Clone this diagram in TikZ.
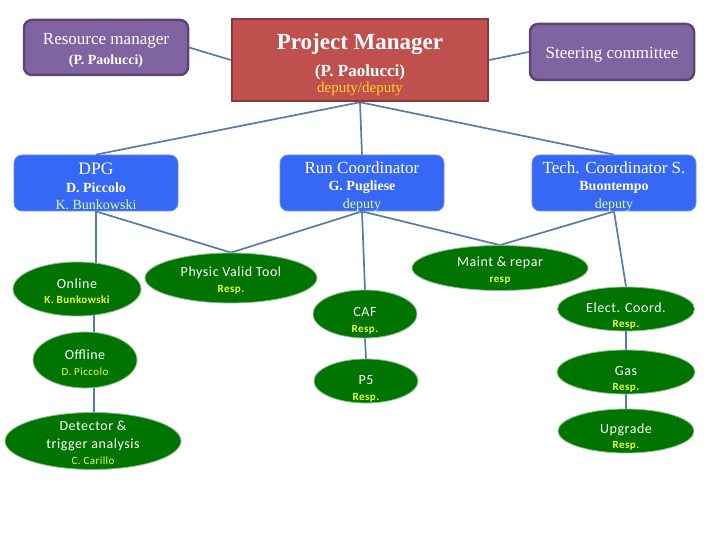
\documentclass[tikz,border=0pt]{standalone}
\usepackage{fontspec}
\setmainfont{Liberation Serif}
\newfontfamily\calfont[LetterSpace=4]{Carlito}
\usetikzlibrary{shapes.geometric,backgrounds}
\definecolor{linkblue}{RGB}{86,124,170}
\definecolor{rmpurple}{RGB}{128,100,162}
\definecolor{rmborder}{RGB}{92,70,118}
\definecolor{pmred}{RGB}{192,80,77}
\definecolor{pmborder}{RGB}{140,56,54}
\definecolor{boxblue}{RGB}{55,104,245}
\definecolor{ellgreen}{RGB}{0,116,0}
\definecolor{ellborder}{RGB}{140,190,140}
\definecolor{lgreen}{RGB}{214,255,160}
\definecolor{dyellow}{RGB}{255,214,40}
\definecolor{ryellow}{RGB}{236,255,50}
\newcommand\resptext[1]{{\color{ryellow}\calfont\bfseries\fontsize{11}{13}\selectfont #1}}
\tikzset{
  conn/.style={draw=linkblue, line width=1.7pt},
  purplebox/.style={rectangle, rounded corners=8pt, fill=rmpurple, draw=rmborder, line width=2.5pt,
    minimum width=164pt, inner sep=0pt},
  redbox/.style={rectangle, fill=pmred, draw=pmborder, line width=2.5pt,
    minimum width=256pt, minimum height=82pt, inner sep=0pt},
  bluebox/.style={rectangle, rounded corners=8pt, fill=boxblue, draw=boxblue!75!white, line width=0.8pt,
    minimum width=164pt, minimum height=56pt, inner sep=0pt},
  greenell/.style={ellipse, fill=ellgreen, draw=ellborder, line width=0.8pt, inner sep=0pt},
  btxt/.style={align=center, text=white, inner sep=0pt, font=\fontsize{14}{17.5}\selectfont},
  etxt/.style={align=center, text=white, inner sep=0pt, font=\calfont\fontsize{14}{16.5}\selectfont},
}
\begin{document}
\begin{tikzpicture}[x=1pt, y=-1pt]
\useasboundingbox (0,0) rectangle (720,540);
% top row
\node[purplebox, minimum height=55pt,
  label={[btxt, yshift=-3pt, font=\fontsize{14}{20}\selectfont]center:{{\fontsize{17}{19}\selectfont Resource manager}\\{\bfseries (P. Paolucci)}}}] (rm) at (106,47.5) {};
\node[redbox,
  label={[btxt, yshift=-4.5pt, font=\fontsize{16}{24}\selectfont]center:{{\bfseries\fontsize{23}{26}\selectfont Project Manager}\\[3pt]{\bfseries\fontsize{17}{19}\selectfont (P. Paolucci)}\\[-8pt]{\color{dyellow}\fontsize{15}{17}\selectfont deputy/deputy}}}] (pm) at (360,60) {};
\node[purplebox, minimum height=56pt,
  label={[btxt, yshift=-3pt, font=\fontsize{17}{19}\selectfont]center:{Steering committee}}] (sc) at (612,52) {};
% second row
\node[bluebox, label={[btxt, yshift=-3.5pt]center:{{\fontsize{17.5}{19}\selectfont DPG}\\{\bfseries D. Piccolo}\\{\color{lgreen}K. Bunkowski}}}] (dpg) at (96,183) {};
\node[bluebox, label={[btxt, yshift=-3.5pt]center:{{\fontsize{17}{19}\selectfont Run Coordinator}\\{\bfseries G. Pugliese}\\{\color{lgreen}deputy}}}] (rc) at (362,183) {};
\node[bluebox, label={[btxt, yshift=-3.5pt]center:{{\fontsize{17}{19}\selectfont Tech. Coordinator S.}\\{\bfseries Buontempo}\\{\color{lgreen}deputy}}}] (tc) at (614,183) {};
% ellipses
\node[greenell, minimum width=128pt, minimum height=54pt,
  label={[etxt, yshift=-2pt]center:{Online\\[-1pt]\resptext{K. Bunkowski}}}] (online) at (77,289) {};
\node[greenell, minimum width=104pt, minimum height=56pt,
  label={[etxt, yshift=-2.5pt]center:{Offline\\[-1pt]{\color{ryellow}\fontsize{11}{13}\selectfont D. Piccolo}}}] (offline) at (85,360) {};
\node[greenell, minimum width=176pt, minimum height=57pt,
  label={[etxt, yshift=-2pt, font=\calfont\fontsize{14}{18}\selectfont]center:{Detector \&\\trigger analysis\\[-2pt]{\color{ryellow}\fontsize{11}{13}\selectfont C. Carillo}}}] (det) at (93,441) {};
\node[greenell, minimum width=172pt, minimum height=50pt,
  label={[etxt, yshift=-2.5pt]center:{Physic Valid Tool\\\resptext{Resp.}}}] (pvt) at (231,278) {};
\node[greenell, minimum width=176pt, minimum height=45pt,
  label={[etxt, yshift=-2.5pt]center:{Maint \& repar\\\resptext{resp}}}] (maint) at (500,268) {};
\node[greenell, minimum width=104pt, minimum height=48pt,
  label={[etxt, yshift=-7pt]center:{CAF\\\resptext{Resp.}}}] (caf) at (365,314) {};
\node[greenell, minimum width=104pt, minimum height=44pt,
  label={[etxt, yshift=-8pt]center:{P5\\\resptext{Resp.}}}] (p5) at (366,381) {};
\node[greenell, minimum width=137pt, minimum height=44pt,
  label={[etxt, yshift=-7pt]center:{Elect. Coord.\\[-1pt]\resptext{Resp.}}}] (elect) at (626,309) {};
\node[greenell, minimum width=138pt, minimum height=44pt,
  label={[etxt, yshift=-7.5pt]center:{Gas\\[-1pt]\resptext{Resp.}}}] (gas) at (626,372) {};
\node[greenell, minimum width=136pt, minimum height=44pt,
  label={[etxt, yshift=-6pt]center:{Upgrade\\[-1pt]\resptext{Resp.}}}] (upg) at (626,431) {};
\coordinate (leftline) at (94,0);
% connectors
\begin{scope}[on background layer]
\draw[conn] (rm.east) -- (pm.west);
\draw[conn] (pm.east) -- (sc.west);
\draw[conn] (pm.south) -- (dpg.north);
\draw[conn] (pm.south) -- (rc.north);
\draw[conn] (pm.south) -- (tc.north);
\draw[conn] (dpg.south) -- (dpg.south |- online.center);
\draw[conn] (dpg.south) -- (pvt.north);
\draw[conn] (rc.south) -- (pvt.north);
\draw[conn] (rc.south) -- (caf.north);
\draw[conn] (rc.south) -- (maint.north);
\draw[conn] (tc.south) -- (maint.north);
\draw[conn] (tc.south) -- (elect.north);
\draw[conn] (leftline |- online.center) -- (leftline |- offline.center);
\draw[conn] (leftline |- offline.center) -- (leftline |- det.center);
\draw[conn] (caf.south) -- (p5.north);
\draw[conn] (elect.south) -- (gas.north);
\draw[conn] (gas.south) -- (upg.north);
\end{scope}
\end{tikzpicture}
\end{document}
